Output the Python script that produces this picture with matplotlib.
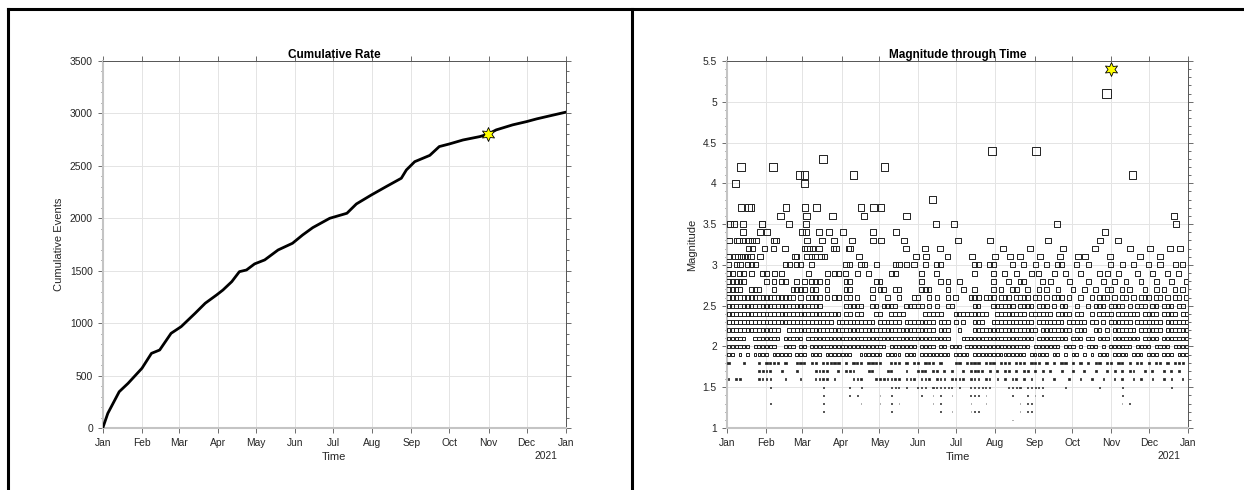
import numpy as np
import matplotlib.pyplot as plt
from matplotlib.lines import Line2D
from matplotlib.ticker import MultipleLocator

plt.rcParams['font.family'] = ['Liberation Sans', 'DejaVu Sans']

# --- time axis: days counted from 2020-01-01 ---
month_starts = np.arange('2020-01', '2021-02', dtype='datetime64[M]').astype('datetime64[D]')
month_days = (month_starts - np.datetime64('2020-01-01')).astype(int)
month_labels = ['Jan', 'Feb', 'Mar', 'Apr', 'May', 'Jun', 'Jul',
                'Aug', 'Sep', 'Oct', 'Nov', 'Dec', 'Jan']

# cumulative number of events
cum_day = [0, 4, 13, 20, 31, 38.5, 45, 54, 62, 73, 81, 90, 95, 102, 108, 113.6,
           120, 128, 138.6, 150, 158, 166, 179.4, 193, 200.5, 212.4, 224, 236,
           240, 246.6, 258.5, 266, 274, 284.8, 298, 304.4, 311, 324, 335, 343,
           353, 366]
cum_count = [0, 140, 346, 426, 570, 712, 744, 903, 967, 1094, 1190, 1269, 1316,
             1396, 1491, 1507, 1565, 1603, 1698, 1762, 1841, 1911, 2000, 2048,
             2137, 2223, 2302, 2382, 2461, 2540, 2600, 2684, 2709, 2747, 2779,
             2802, 2843, 2891, 2922, 2948, 2976, 3012]

# largest event
main_day = 304.4
main_mag = 5.4
main_count = 2802

# individual events M >= 3.1 (day, magnitude)
big_days = [7.1, 61.5,
            11.3, 36.7, 125,
            57.6, 61.5, 100.4, 321.6,
            76.6,
            210.6, 245,
            301,
            163,
            11.3, 17.1, 19.3, 47, 62, 71.4, 106.5, 116.5, 122.3,
            42.8, 63.1, 84, 108.8, 142.4, 354.6,
            2.6, 6, 12.9, 27.7, 28.2, 49.2, 62.6, 166, 180.4, 261.8, 356.2,
            12.7, 26.4, 31.7, 59.5, 62.6, 73, 81, 92.2, 116.2, 134.2, 299.8,
            1.8, 8.4, 9.8, 13.2, 17.1, 20.3, 23, 37.7, 39.3, 63.7, 75.3, 85.3,
            99.1, 116.2, 122.3, 140.3, 183.3, 208.7, 254.7, 295.9, 310.2,
            17.1, 20.3, 29.8, 37, 46.2, 61.5, 63.4, 65.5, 67.9, 73.2, 84.5, 86.4,
            96.4, 97.5, 141.9, 157, 169.3, 219, 240.4, 266.6, 291.9, 319.7,
            335.6, 351.4, 359.3,
            1.3, 6.6, 8.7, 11.3, 14, 16.6, 19.3, 26.4, 54.1, 55.5, 63.4, 67.4,
            70, 74.8, 77.4, 104.9, 150, 158, 175, 194.5, 212.7, 224.6, 232.5,
            248.4, 264.1, 278.5, 284, 303.9, 327.6, 343.5]
big_mags = ([4.0] * 2 + [4.2] * 3 + [4.1] * 4 + [4.3] + [4.4] * 2 + [5.1] + [3.8]
            + [3.7] * 9 + [3.6] * 6 + [3.5] * 11 + [3.4] * 11 + [3.3] * 21
            + [3.2] * 25 + [3.1] * 30)

# smaller events, binned in 3-day bins (bin index ranges) per magnitude
row_mags = [3.0, 2.9, 2.8, 2.7, 2.6, 2.5, 2.4, 2.3, 2.2, 2.1, 2.0,
            1.9, 1.8, 1.7, 1.6, 1.5, 1.4, 1.3, 1.2, 1.1]
row_bins = [
    "0 2-3 5-7 15-16 18-19 22 31-32 35-36 39 44-45 47 49 52 55-56 65-66 69-70 "
    "75 78 81 84 87-88 92 95 101 104 107 111 114 118 120",
    "0-1 3-4 6 9-10 12 14 21 26 28-29 31 34 37 43-44 51 55 65 70 "
    "73 76 80 82 86 89 93 98 100 103 108 112 116 119",
    "0-4 10 12 14-15 18 20 22-24 26 31-32 39-40 51 56 58 61 70 "
    "74 77-78 83 85 90 95 99 102 105 109 113 117 121",
    "0-3 6-8 12 17-20 22-23 26 31-32 38 40-41 44-45 51-53 58 62 65 70 "
    "72 75-76 79 82 84 87 91 94 97 100-101 104 106 110 113 115 118 120",
    "0-17 19 21-24 26 28-29 31-32 34 38 42 45 49-50 53 55 58 60 64-66 68-70 "
    "72-74 76-79 81-82 84 86-88 90 93 96 98-100 102 104-105 107 109-111 113-114 116 118-119 121",
    "0-24 31-35 38-39 41-44 47-51 53 55 58-59 65-66 70-71 "
    "72-75 77-80 82-84 86 88-89 92 95 97-99 101-104 106 108-110 112-113 115-117 119-120",
    "0-29 31-32 34-35 39-40 43-46 52-56 60-68 "
    "71-78 80-85 87-90 92-93 96 98-101 103-108 110-113 115-118 120-121",
    "0-27 29-38 40-45 47-54 56-58 60 62 65-67 70-72 "
    "73-80 82-88 90-94 96-97 99 101-106 108-114 116-121",
    "0-13 16-54 56-58 61 65-72 "
    "73-81 83-90 92-94 97-98 100 102-107 109-114 116-121",
    "0-4 7-13 15-19 21-58 62-72 "
    "73-80 82-89 91-93 95-96 98-100 102-108 110-113 115-121",
    "0-5 7-12 15-17 19-20 22-41 43-49 51-54 56-57 59-61 63-72 "
    "73-79 81-87 89-91 93 95-97 99 101-106 108-111 113-116 118-121",
    "0-1 3 5 7-10 12-16 18-20 22-24 26-32 35-40 42-45 47-49 51-58 60-63 65-72 "
    "73-78 80-84 86-87 89 91-92 94 96 98-100 102-105 107-109 111-113 115-117 119-121",
    "0 4 8 10-13 15 18-20 22-23 25-29 31 33-35 37-40 43-45 47 49-50 52-54 56 60-61 63-66 68-70 "
    "72-74 76-78 80-82 84 86 88-89 91 93 95 97-98 100-101 103-104 106 108-109 111 113-114 116 118-120",
    "8-11 14 18 23-26 29 31-33 37-38 42-43 47 50-52 54-55 57 59 62 64-67 69 "
    "71 73-74 76 78-79 81 83 85 88 91 94 97 100 102 104 106-107 110 112 115 117 119",
    "0 2-3 8-11 15 19 23-26 28 33-35 39-45 47-49 51-53 55-57 59-62 64-66 68-69 "
    "71 73 75-76 78 80 83 86 90 93 96 99 102 104 107 109 112 115 117 120",
    "11 25 32 35 43-45 47 50-52 54-59 61 64-69 74-77 79-83 89 98 104 117",
    "25 32 34 40 43 51 54 56 59 64-66 68 75 79 81 83 104",
    "11 25 35 40 43 45 54 56 64 68 77 79-80 104 106",
    "25 43 56 59 64-66 77 79-80",
    "40 75",
]


def parse_bins(spec):
    out = []
    for tok in spec.split():
        if '-' in tok:
            a, b = tok.split('-')
            out.extend(range(int(a), int(b) + 1))
        else:
            out.append(int(tok))
    return out


ev_day, ev_mag = [], []
for m, spec in zip(row_mags, row_bins):
    for b in parse_bins(spec):
        ev_day.append(b * 3 + 1.5)
        ev_mag.append(m)
ev_day = np.array(ev_day + big_days)
ev_mag = np.array(ev_mag + big_mags)


def marker_area(mag):
    # square side in pixels grows with magnitude
    side_px = np.where(mag >= 2, 3.6 + 2.1 * (mag - 2), 3.6 + 4.0 * (mag - 2))
    side_px = np.clip(side_px - 0.5, 0.6, None)
    return (side_px * 72 / 100) ** 2


def style_axes(ax):
    ax.set_xlim(0, 366)
    ax.set_xticks(month_days)
    ax.set_xticklabels(month_labels)
    ax.grid(True, which='major', color='#e4e4e4', lw=0.7)
    ax.set_axisbelow(True)
    ax.tick_params(which='both', direction='out', top=True, right=True,
                   colors='#555555', labelcolor='#262626', labelsize=7.4, width=0.6)
    ax.tick_params(which='major', length=3.6)
    ax.tick_params(which='minor', length=1.8)
    for s in ('top', 'right'):
        ax.spines[s].set_color('#555555')
        ax.spines[s].set_linewidth(0.7)
    for s in ('left', 'bottom'):
        ax.spines[s].set_color('#c4c4c4')
        ax.spines[s].set_linewidth(1.5)
    ax.set_xlabel('Time', fontsize=8, color='#262626', labelpad=3)
    ax.annotate('2021', xy=(1, 0), xycoords='axes fraction', xytext=(-6, -20),
                textcoords='offset points', ha='right', va='center',
                fontsize=7.4, color='#262626')


fig = plt.figure(figsize=(12.44, 4.9), dpi=100)

# cumulative rate
ax1 = fig.add_axes([0.0826, 0.1265, 0.3722, 0.749])
ax1.plot(cum_day, cum_count, color='black', lw=2.0, zorder=3)
ax1.scatter([main_day], [main_count], marker=(6, 1, 0), s=100,
            facecolor='#ffff00', edgecolor='black', lw=0.6, zorder=4)
ax1.set_ylim(0, 3500)
ax1.yaxis.set_major_locator(MultipleLocator(500))
ax1.yaxis.set_minor_locator(MultipleLocator(100))
style_axes(ax1)
ax1.set_ylabel('Cumulative Events', fontsize=8, color='#262626')
ax1.set_title('Cumulative Rate', fontsize=8.5, fontweight='bold', pad=2)

# magnitude through time: tiny events drawn as filled dots
ax2 = fig.add_axes([0.5842, 0.1265, 0.3711, 0.749])
small = ev_mag < 1.85
ax2.scatter(ev_day[~small], ev_mag[~small], s=marker_area(ev_mag[~small]),
            marker='s', facecolor='none', edgecolor='#222222', lw=0.7, zorder=3)
ax2.scatter(ev_day[small], ev_mag[small], s=marker_area(ev_mag[small]),
            marker='s', facecolor='#222222', edgecolor='#222222', lw=0.5, zorder=3)
ax2.scatter([main_day], [main_mag], marker=(6, 1, 0), s=100,
            facecolor='#ffff00', edgecolor='black', lw=0.6, zorder=4)
ax2.set_ylim(1, 5.5)
ax2.yaxis.set_major_locator(MultipleLocator(0.5))
ax2.yaxis.set_minor_locator(MultipleLocator(0.1))
ax2.yaxis.set_major_formatter(lambda v, pos: f'{v:g}')
style_axes(ax2)
ax2.set_ylabel('Magnitude', fontsize=8, color='#262626')
ax2.set_title('Magnitude through Time', fontsize=8.5, fontweight='bold', pad=2)

# panel frame lines
frame_kw = dict(color='black', lw=2.2, transform=fig.transFigure)
fig.add_artist(Line2D([0.0068, 1.0], [0.982, 0.982], **frame_kw))
fig.add_artist(Line2D([0.0068, 0.0068], [0.0, 0.982], **frame_kw))
fig.add_artist(Line2D([0.508, 0.508], [0.0, 0.982], **frame_kw))

fig.savefig('out.png', dpi=100)
